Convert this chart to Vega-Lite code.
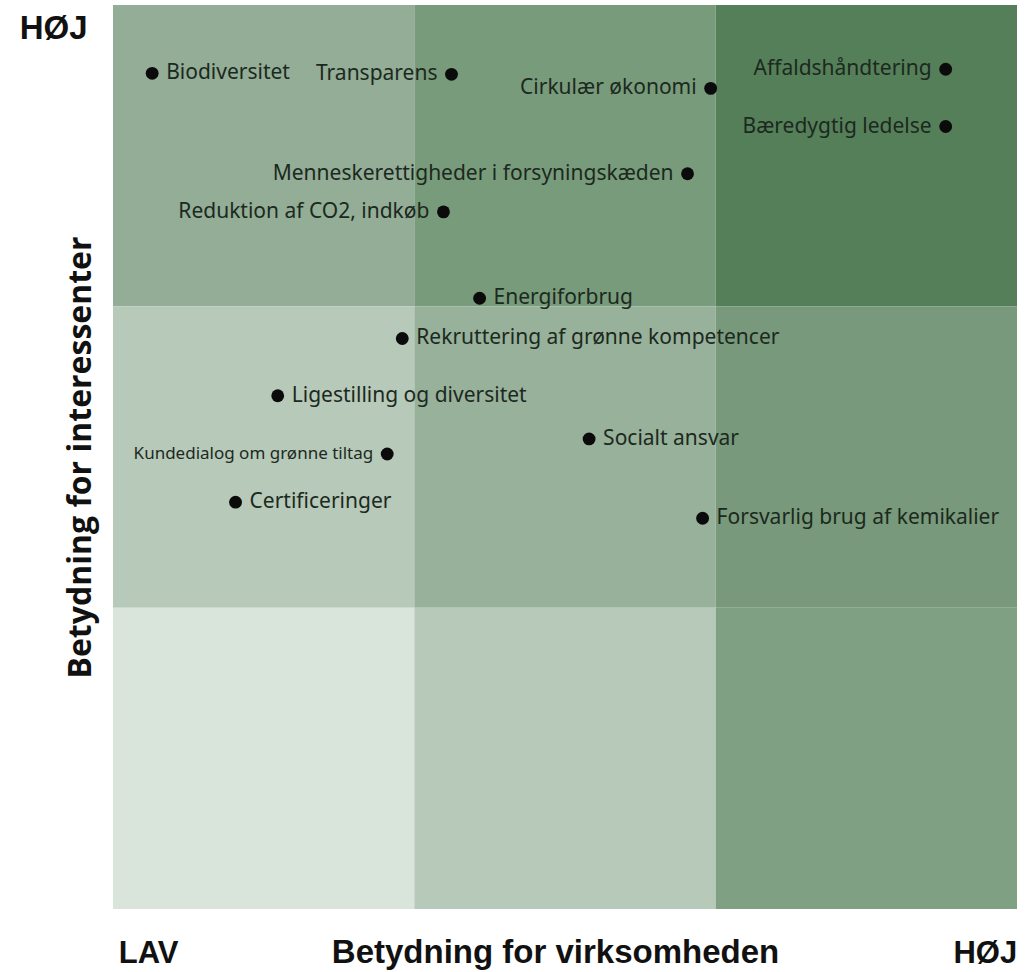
{
  "$schema": "https://vega.github.io/schema/vega-lite/v6.json",
  "autosize": {"type": "none"},
  "width": 904,
  "height": 904,
  "padding": {"left": 113, "top": 5, "right": 17, "bottom": 63},
  "background": "#ffffff",
  "config": {"view": {"stroke": null}},
  "datasets": {
    "cells": [
      {"x0": 0, "x1": 3, "y0": 6, "y1": 9, "zone": "høj-lav"},
      {"x0": 3, "x1": 6, "y0": 6, "y1": 9, "zone": "høj-mellem"},
      {"x0": 6, "x1": 9, "y0": 6, "y1": 9, "zone": "høj-høj"},
      {"x0": 0, "x1": 3, "y0": 3, "y1": 6, "zone": "mellem-lav"},
      {"x0": 3, "x1": 6, "y0": 3, "y1": 6, "zone": "mellem-mellem"},
      {"x0": 6, "x1": 9, "y0": 3, "y1": 6, "zone": "mellem-høj"},
      {"x0": 0, "x1": 3, "y0": 0, "y1": 3, "zone": "lav-lav"},
      {"x0": 3, "x1": 6, "y0": 0, "y1": 3, "zone": "lav-mellem"},
      {"x0": 6, "x1": 9, "y0": 0, "y1": 3, "zone": "lav-høj"}
    ],
    "topics": [
      {"label": "Biodiversitet", "virksomhed": 0.39, "interessenter": 8.32, "side": "right"},
      {"label": "Transparens", "virksomhed": 3.37, "interessenter": 8.31, "side": "left"},
      {"label": "Cirkulær økonomi", "virksomhed": 5.95, "interessenter": 8.17, "side": "left"},
      {"label": "Affaldshåndtering", "virksomhed": 8.29, "interessenter": 8.36, "side": "left"},
      {"label": "Bæredygtig ledelse", "virksomhed": 8.29, "interessenter": 7.79, "side": "left"},
      {"label": "Menneskerettigheder i forsyningskæden", "virksomhed": 5.72, "interessenter": 7.32, "side": "left"},
      {"label": "Reduktion af CO2, indkøb", "virksomhed": 3.29, "interessenter": 6.94, "side": "left"},
      {"label": "Energiforbrug", "virksomhed": 3.65, "interessenter": 6.08, "side": "right"},
      {"label": "Rekruttering af grønne kompetencer", "virksomhed": 2.88, "interessenter": 5.68, "side": "right"},
      {"label": "Ligestilling og diversitet", "virksomhed": 1.64, "interessenter": 5.11, "side": "right"},
      {"label": "Kundedialog om grønne tiltag", "virksomhed": 2.73, "interessenter": 4.53, "side": "left"},
      {"label": "Socialt ansvar", "virksomhed": 4.74, "interessenter": 4.68, "side": "right"},
      {"label": "Certificeringer", "virksomhed": 1.22, "interessenter": 4.05, "side": "right"},
      {"label": "Forsvarlig brug af kemikalier", "virksomhed": 5.87, "interessenter": 3.89, "side": "right"}
    ]
  },
  "layer": [
    {
      "data": {"name": "cells"},
      "mark": {"type": "rect"},
      "encoding": {
        "x": {
          "field": "x0", "type": "quantitative",
          "scale": {"domain": [0, 9], "nice": false, "zero": false},
          "axis": {
            "orient": "bottom", "values": [0.35, 8.68],
            "labelExpr": "datum.value < 4 ? 'LAV' : 'HØJ'",
            "domain": false, "ticks": false, "tickSize": 0, "grid": false,
            "labelAlign": "center", "labelBaseline": "alphabetic", "labelPadding": 53,
            "labelFont": "Liberation Sans", "labelFontWeight": "bold", "labelFontSize": 31, "labelColor": "#111111",
            "labelOverlap": false, "labelBound": false, "labelFlush": false,
            "title": "Betydning for virksomheden",
            "titleX": 442, "titleY": 53, "titleAlign": "center", "titleBaseline": "alphabetic",
            "titleFont": "Liberation Sans", "titleFontWeight": "bold", "titleFontSize": 33, "titleColor": "#111111"
          }
        },
        "x2": {"field": "x1"},
        "y": {
          "field": "y0", "type": "quantitative",
          "scale": {"domain": [0, 9], "nice": false, "zero": false},
          "axis": {
            "orient": "left", "values": [8.77],
            "labelExpr": "'HØJ'",
            "domain": false, "ticks": false, "tickSize": 0, "grid": false,
            "labelAlign": "right", "labelBaseline": "middle", "labelPadding": 26,
            "labelFont": "Liberation Sans", "labelFontWeight": "bold", "labelFontSize": 33, "labelColor": "#111111",
            "labelOverlap": false, "labelBound": false, "labelFlush": false,
            "title": "Betydning for interessenter",
            "titleX": -23, "titleY": 452, "titleAngle": -90, "titleAlign": "center", "titleBaseline": "alphabetic",
            "titleFont": "Open Sans", "titleFontWeight": "bold", "titleFontSize": 32, "titleColor": "#111111"
          }
        },
        "y2": {"field": "y1"},
        "color": {
          "field": "zone", "type": "nominal", "legend": null,
          "scale": {
            "domain": ["høj-lav", "høj-mellem", "høj-høj", "mellem-lav", "mellem-mellem", "mellem-høj", "lav-lav", "lav-mellem", "lav-høj"],
            "range": ["#93ad96", "#789b7b", "#557f59", "#b7c9b9", "#97b19a", "#78997b", "#d9e4da", "#b7c9b9", "#80a084"]
          }
        }
      }
    },
    {
      "data": {"name": "topics"},
      "mark": {"type": "point", "shape": "circle", "filled": true, "size": 165, "color": "#0b0b0b", "opacity": 1},
      "encoding": {
        "x": {"field": "virksomhed", "type": "quantitative"},
        "y": {"field": "interessenter", "type": "quantitative"}
      }
    },
    {
      "data": {"name": "topics"},
      "transform": [{"filter": "datum.side == 'right'"}],
      "mark": {"type": "text", "align": "left", "baseline": "middle", "dx": 14, "font": "Noto Sans", "fontSize": 21, "color": "#1c291e"},
      "encoding": {
        "x": {"field": "virksomhed", "type": "quantitative"},
        "y": {"field": "interessenter", "type": "quantitative"},
        "text": {"field": "label"}
      }
    },
    {
      "data": {"name": "topics"},
      "transform": [{"filter": "datum.side == 'left' && datum.label != 'Kundedialog om grønne tiltag'"}],
      "mark": {"type": "text", "align": "right", "baseline": "middle", "dx": -14, "font": "Noto Sans", "fontSize": 21, "color": "#1c291e"},
      "encoding": {
        "x": {"field": "virksomhed", "type": "quantitative"},
        "y": {"field": "interessenter", "type": "quantitative"},
        "text": {"field": "label"}
      }
    },
    {
      "data": {"name": "topics"},
      "transform": [{"filter": "datum.label == 'Kundedialog om grønne tiltag'"}],
      "mark": {"type": "text", "align": "right", "baseline": "middle", "dx": -14, "font": "Noto Sans", "fontSize": 17, "color": "#1c291e"},
      "encoding": {
        "x": {"field": "virksomhed", "type": "quantitative"},
        "y": {"field": "interessenter", "type": "quantitative"},
        "text": {"field": "label"}
      }
    }
  ]
}
